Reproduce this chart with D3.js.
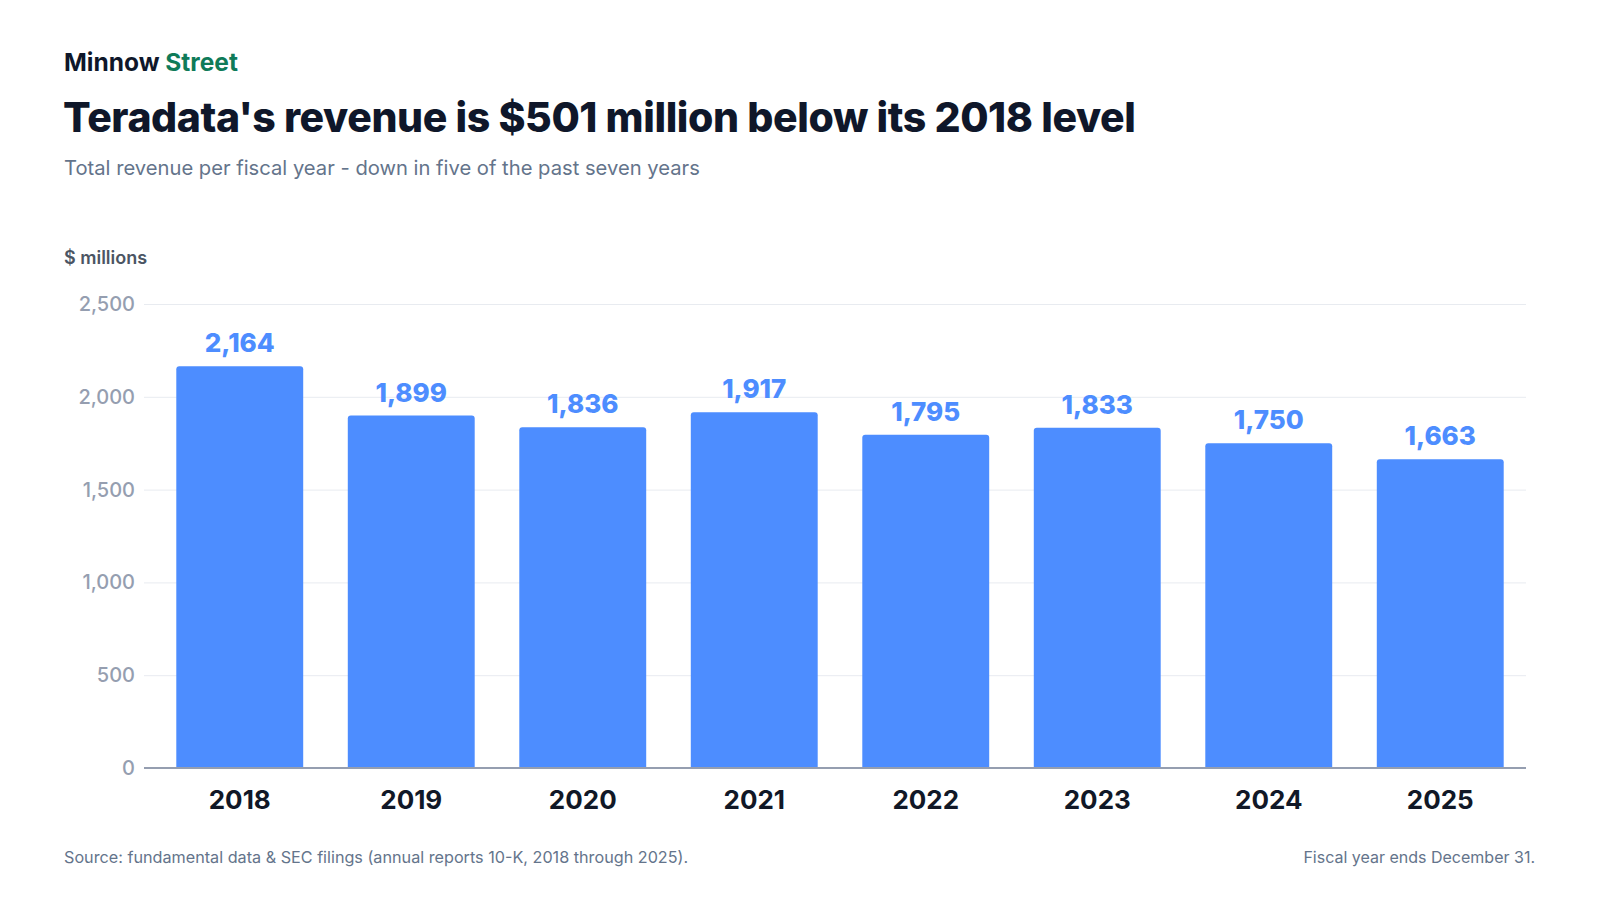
<html>
<head>
  <style>
    body { margin: 0; background: #fff; }
    svg text { font-family: Inter, "Noto Sans", sans-serif; }
    svg .grid line { stroke: #e8ebf0; stroke-width: 1px; }
  </style>
</head>
<body>
  <div id="chart"></div>
  <script src="https://d3js.org/d3.v7.min.js"></script>
  <script>
  // data
  var years = ["2018", "2019", "2020", "2021", "2022", "2023", "2024", "2025"];
  var revenue = [2164, 1899, 1836, 1917, 1795, 1833, 1750, 1663];
  var yTicks = [0, 500, 1000, 1500, 2000, 2500];

  var W = 1600, H = 900;
  var plot = { left: 144, right: 1526, top: 304, bottom: 768 };

  var svg = d3.select("#chart").append("svg")
      .attr("width", W)
      .attr("height", H);

  // header
  var brand = svg.append("text")
      .attr("x", 64).attr("y", 71)
      .style("font-size", "24.5px")
      .style("font-weight", 700)
      .style("letter-spacing", "0px");
  brand.append("tspan").text("Minnow ").style("fill", "#0f172a");
  brand.append("tspan").text("Street").style("fill", "#0f7b59");

  svg.append("text")
      .attr("x", 63).attr("y", 132)
      .text("Teradata's revenue is $501 million below its 2018 level")
      .style("font-size", "41px")
      .style("font-weight", 800)
      .style("letter-spacing", "-0.4px")
      .style("fill", "#0f172a");

  svg.append("text")
      .attr("x", 64).attr("y", 175)
      .text("Total revenue per fiscal year - down in five of the past seven years")
      .style("font-size", "20.2px")
      .style("fill", "#64748b");

  svg.append("text")
      .attr("x", 64).attr("y", 264)
      .text("$ millions")
      .style("font-size", "18px")
      .style("font-weight", 600)
      .style("fill", "#4b5563");

  // scales
  var x = d3.scaleBand()
      .domain(years)
      .range([154, plot.right])
      .paddingInner(0.26)
      .paddingOuter(0.13);

  var y = d3.scaleLinear()
      .domain([0, 2500])
      .range([plot.bottom, plot.top]);

  // grid + y tick labels
  var yAxis = d3.axisLeft(y)
      .tickValues(yTicks)
      .tickFormat(d3.format(","))
      .tickSize(-(plot.right - plot.left))
      .tickPadding(9);

  var ya = svg.append("g")
      .classed("grid", true)
      .attr("transform", "translate(" + plot.left + ",0)")
      .call(yAxis);
  ya.select(".domain").remove();
  ya.selectAll(".tick text")
      .style("font-size", "20px")
      .style("font-weight", 500)
      .style("fill", "#959eb0");

  // bars, rounded on top only
  function barPath(d, i) {
    var x0 = x(years[i]), w = x.bandwidth();
    var y0 = y(d), y1 = y(0), r = 3;
    return "M" + x0 + "," + y1 +
      "V" + (y0 + r) +
      "Q" + x0 + "," + y0 + " " + (x0 + r) + "," + y0 +
      "H" + (x0 + w - r) +
      "Q" + (x0 + w) + "," + y0 + " " + (x0 + w) + "," + (y0 + r) +
      "V" + y1 + "Z";
  }

  svg.append("g")
    .selectAll("path")
    .data(revenue)
    .enter().append("path")
      .attr("d", barPath)
      .style("fill", "#4d8dff");

  // value labels
  svg.append("g")
    .selectAll("text")
    .data(revenue)
    .enter().append("text")
      .attr("x", function (d, i) { return x(years[i]) + x.bandwidth() / 2; })
      .attr("y", function (d) { return y(d) - 14; })
      .text(d3.format(","))
      .style("text-anchor", "middle")
      .style("font-size", "26px")
      .style("font-weight", 800)
      .style("fill", "#4d8dff");

  // baseline
  svg.append("line")
      .attr("x1", plot.left).attr("x2", plot.right)
      .attr("y1", y(0)).attr("y2", y(0))
      .style("stroke", "#959eb0")
      .style("stroke-width", "2px");

  // x axis labels
  var xAxis = d3.axisBottom(x).tickSize(0).tickPadding(23);
  var xa = svg.append("g")
      .attr("transform", "translate(0," + y(0) + ")")
      .call(xAxis);
  xa.select(".domain").remove();
  xa.selectAll(".tick text")
      .style("font-size", "26px")
      .style("font-weight", 700)
      .style("fill", "#111827");

  // footer
  svg.append("text")
      .attr("x", 64).attr("y", 863)
      .text("Source: fundamental data & SEC filings (annual reports 10-K, 2018 through 2025).")
      .style("font-size", "16.2px")
      .style("fill", "#64748b");

  svg.append("text")
      .attr("x", 1535).attr("y", 863)
      .text("Fiscal year ends December 31.")
      .style("text-anchor", "end")
      .style("font-size", "16px")
      .style("fill", "#64748b");
  </script>
</body>
</html>
